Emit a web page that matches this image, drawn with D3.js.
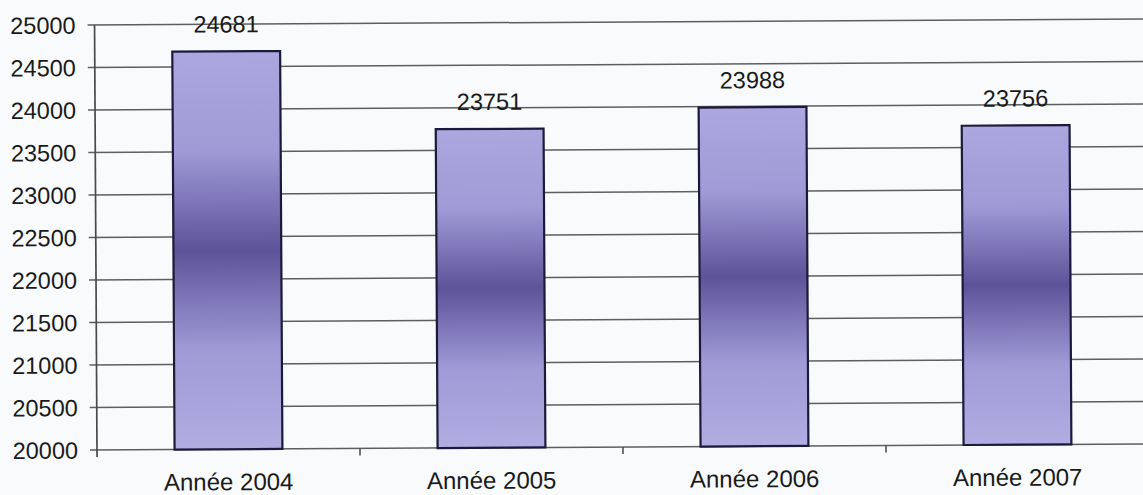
<!DOCTYPE html>
<html>
<head>
<meta charset="utf-8">
<script src="https://cdn.jsdelivr.net/npm/d3@7"></script>
<style>
  html, body { margin: 0; padding: 0; background: #f8fafc; }
  svg { display: block; }
  text { font-family: "Liberation Sans", Arial, sans-serif; fill: #1a1a1a; }
</style>
</head>
<body>
<svg id="chart" width="1143" height="495"></svg>
<script>
const categories = ["Année 2004", "Année 2005", "Année 2006", "Année 2007"];
const values = [24681, 23751, 23988, 23756];
const yTicks = [20000, 20500, 21000, 21500, 22000, 22500, 23000, 23500, 24000, 24500, 25000];

const svg = d3.select("#chart");
const plotLeft = 97, plotRight = 1149, plotTop = 25, plotBottom = 450;

const g = svg.append("g").attr("transform", `rotate(-0.33, ${plotLeft}, ${plotBottom})`);

const y = d3.scaleLinear().domain([20000, 25000]).range([plotBottom, plotTop]);
const x = d3.scaleBand().domain(categories).range([plotLeft, plotRight])
  .paddingInner(0.59).paddingOuter(0.295);
const xs = d3.scaleBand().domain(categories).range([plotLeft, plotRight]).padding(0);

// gradient
const defs = svg.append("defs");
const grad = defs.append("linearGradient").attr("id", "barGrad")
  .attr("x1", 0).attr("y1", 0).attr("x2", 0).attr("y2", 1);
[[0, "#aca7de"], [0.25, "#a09ad6"], [0.5, "#5d5399"], [0.75, "#a09ad6"], [1, "#b1ace1"]]
  .forEach(([o, c]) => grad.append("stop").attr("offset", o).attr("stop-color", c));

// gridlines
g.append("g").selectAll("line").data(yTicks).join("line")
  .attr("x1", plotLeft - 7).attr("x2", 1160)
  .attr("y1", d => y(d)).attr("y2", d => y(d))
  .attr("stroke", "#5e5e5e").attr("stroke-width", 1.5);

// y axis line
g.append("line").attr("x1", plotLeft).attr("x2", plotLeft)
  .attr("y1", plotTop).attr("y2", plotBottom + 7)
  .attr("stroke", "#4a4a4a").attr("stroke-width", 1.7);

// category ticks
g.append("g").selectAll("line").data(categories.slice(1)).join("line")
  .attr("x1", d => xs(d)).attr("x2", d => xs(d))
  .attr("y1", plotBottom).attr("y2", plotBottom + 7)
  .attr("stroke", "#4a4a4a").attr("stroke-width", 1.5);

// y labels
g.append("g").selectAll("text").data(yTicks).join("text")
  .attr("x", 78).attr("y", d => y(d)).attr("dy", "0.36em")
  .attr("text-anchor", "end").attr("font-size", 23.5)
  .text(d => d);

// bars
g.append("g").selectAll("rect").data(values).join("rect")
  .attr("x", (d, i) => x(categories[i]))
  .attr("width", x.bandwidth())
  .attr("y", d => y(d))
  .attr("height", d => y(20000) - y(d))
  .attr("fill", "url(#barGrad)")
  .attr("stroke", "#1c1a3c").attr("stroke-width", 2.2);

// value labels
g.append("g").selectAll("text").data(values).join("text")
  .attr("x", (d, i) => x(categories[i]) + x.bandwidth() / 2)
  .attr("y", d => y(d) - 19)
  .attr("text-anchor", "middle").attr("font-size", 23.5)
  .text(d => d);

// category labels
g.append("g").selectAll("text").data(categories).join("text")
  .attr("x", d => xs(d) + xs.bandwidth() / 2)
  .attr("y", 491)
  .attr("text-anchor", "middle").attr("font-size", 24)
  .text(d => d);
</script>
</body>
</html>
